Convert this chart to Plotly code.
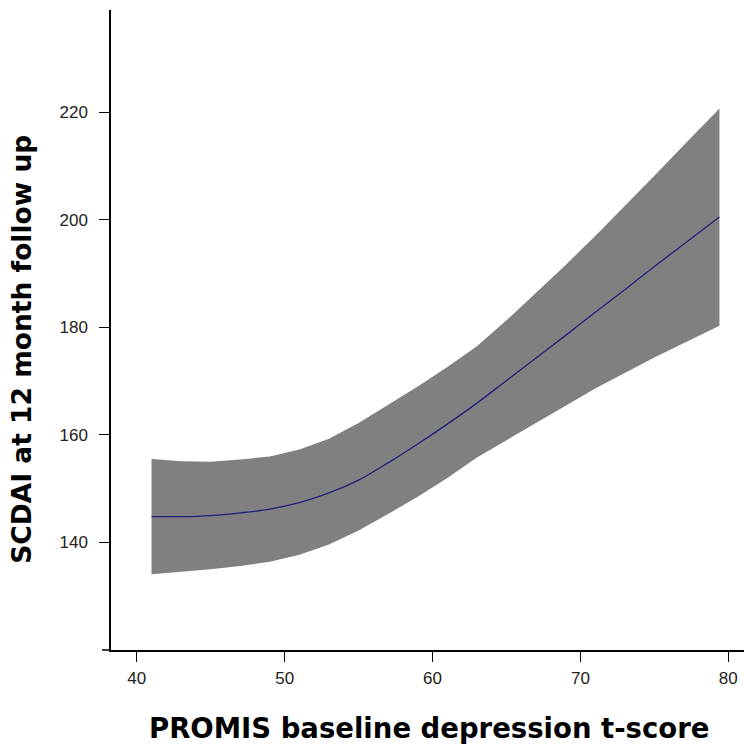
import plotly.graph_objects as go

# Data
x_vals = [41, 43, 45, 47, 49, 51, 53, 55, 57, 59, 61, 63, 65, 67, 69, 71, 73, 75, 77, 79.4]
fit = [144.8, 144.8, 145.0, 145.5, 146.2, 147.4, 149.2, 151.6, 154.8, 158.3,
       162.0, 165.9, 170.1, 174.3, 178.5, 182.8, 187.0, 191.3, 195.5, 200.5]
upper = [155.5, 155.1, 155.0, 155.4, 156.0, 157.3, 159.3, 162.2, 165.6, 169.0,
         172.6, 176.5, 181.3, 186.4, 191.6, 197.0, 202.5, 208.2, 213.9, 220.7]
lower = [134.1, 134.5, 135.0, 135.6, 136.4, 137.7, 139.6, 142.2, 145.3, 148.5,
         152.0, 155.8, 158.9, 162.2, 165.4, 168.6, 171.5, 174.4, 177.1, 180.3]

x_ticks = [40, 50, 60, 70, 80]
y_ticks = [140, 160, 180, 200, 220]
x_title = "PROMIS baseline depression t-score"
y_title = "SCDAI at 12 month follow up"

FONT = "Liberation Sans, Arial, sans-serif"
TITLE_FONT = "DejaVu Sans, Liberation Sans, sans-serif"

fig = go.Figure()
fig.add_trace(go.Scatter(
    x=x_vals + x_vals[::-1],
    y=upper + lower[::-1],
    fill="toself", fillcolor="#808080",
    line=dict(width=0), mode="lines", hoverinfo="skip", showlegend=False,
))
fig.add_trace(go.Scatter(
    x=x_vals, y=fit, mode="lines",
    line=dict(color="#20207a", width=1.3, shape="spline"), showlegend=False,
))

fig.update_layout(
    width=744, height=747,
    margin=dict(l=111, r=0, t=10, b=97),
    paper_bgcolor="white", plot_bgcolor="white",
    font=dict(family=FONT, color="#222222"),
    xaxis=dict(
        range=[38.26, 81.06], tickvals=x_ticks, ticks="outside", ticklen=10,
        tickcolor="black", tickwidth=1.3, showgrid=False, zeroline=False,
        showline=True, linecolor="black", linewidth=1.5, automargin=False,
        tickfont=dict(size=17, family=FONT, color="#222222"),
        ticklabelstandoff=2,
    ),
    yaxis=dict(
        range=[120, 239], tickvals=y_ticks, ticks="outside", ticklen=10,
        tickcolor="black", tickwidth=1.3, showgrid=False, zeroline=False,
        showline=True, linecolor="black", linewidth=1.5, automargin=False,
        tickfont=dict(size=17, family=FONT, color="#222222"),
        ticklabelstandoff=8,
    ),
    annotations=[
        dict(text="<b>" + x_title + "</b>", xref="paper", yref="paper",
             x=0.502, y=-0.122, xanchor="center", yanchor="middle",
             showarrow=False, font=dict(size=27.5, family=TITLE_FONT, color="black")),
        dict(text="<b>" + y_title + "</b>", xref="paper", yref="paper",
             x=-0.1406, y=0.469, xanchor="center", yanchor="middle", textangle=-90,
             showarrow=False, font=dict(size=26.5, family=TITLE_FONT, color="black")),
    ],
)

# small extension of x-axis line to the left of the y-axis (as in reference)
fig.add_shape(type="line", xref="paper", yref="paper",
              x0=-0.0142, x1=0, y0=0, y1=0,
              line=dict(color="black", width=1.5))

# remove the default page margin so the figure fills the window exactly
fig.write_html("out.html",
               config={"displayModeBar": False},
               post_script="document.body.style.margin='0';document.body.style.overflow='hidden';")
